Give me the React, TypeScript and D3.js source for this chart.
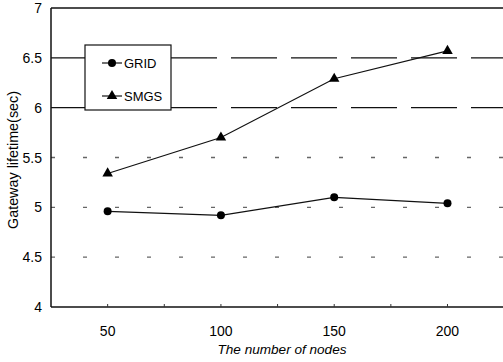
import React, { useEffect, useRef } from "react";
import * as d3 from "d3";

const nodes = [50, 100, 150, 200];
const gridSeries = [4.96, 4.92, 5.1, 5.04];
const smgsSeries = [5.34, 5.7, 6.29, 6.57];
const yTicks = [4, 4.5, 5, 5.5, 6, 6.5, 7];

const App = () => {
  const ref = useRef<SVGSVGElement>(null);

  useEffect(() => {
    const svg = d3.select(ref.current);
    svg.selectAll("*").remove();
    const left = 51, right = 503, top = 8, bottom = 307;

    const x = d3.scaleLinear().domain([25, 224.5]).range([left, right]);
    const y = d3.scaleLinear().domain([4, 7]).range([bottom, top]);
    const font = "Arial, 'Liberation Sans', sans-serif";

    // grid lines
    yTicks.slice(1).forEach((t) => {
      const dash = t === 7 ? null : t >= 6 ? "46,14" : "4,28";
      svg.append("line")
        .attr("x1", left).attr("x2", right)
        .attr("y1", y(t)).attr("y2", y(t))
        .attr("stroke", t >= 6 ? "#111" : "#666")
        .attr("stroke-width", t === 7 ? 1.5 : 1.3)
        .attr("stroke-dasharray", dash);
    });

    // axes
    svg.append("line").attr("x1", left).attr("x2", left).attr("y1", top).attr("y2", bottom)
      .attr("stroke", "#111").attr("stroke-width", 1.5);
    svg.append("line").attr("x1", left).attr("x2", right).attr("y1", bottom).attr("y2", bottom)
      .attr("stroke", "#111").attr("stroke-width", 1.5);

    d3.range(50, 225, 25).forEach((v) => {
      svg.append("line").attr("x1", x(v)).attr("x2", x(v)).attr("y1", bottom).attr("y2", bottom - 3)
        .attr("stroke", "#333").attr("stroke-width", 1);
    });

    svg.append("g").selectAll("text").data(yTicks).enter().append("text")
      .attr("x", left - 9).attr("y", (d) => y(d) + 5)
      .attr("text-anchor", "end").attr("font-family", font).attr("font-size", 14)
      .text((d) => String(d));

    svg.append("g").selectAll("text").data(nodes).enter().append("text")
      .attr("x", (d) => x(d)).attr("y", 336)
      .attr("text-anchor", "middle").attr("font-family", font).attr("font-size", 14)
      .text((d) => String(d));

    svg.append("text")
      .attr("x", 282).attr("y", 354).attr("text-anchor", "middle")
      .attr("font-family", font).attr("font-size", 12).attr("font-style", "italic")
      .attr("textLength", 129).attr("lengthAdjust", "spacingAndGlyphs")
      .text("The number of nodes");

    svg.append("text")
      .attr("transform", `translate(18, 160) rotate(-90)`)
      .attr("text-anchor", "middle").attr("font-family", font).attr("font-size", 14)
      .attr("textLength", 138).attr("lengthAdjust", "spacingAndGlyphs")
      .text("Gateway lifetime(sec)");

    const line = d3.line<number>().x((_, i) => x(nodes[i])).y((d) => y(d));

    svg.append("path").attr("d", line(gridSeries)).attr("fill", "none")
      .attr("stroke", "#111").attr("stroke-width", 1.2);
    svg.append("path").attr("d", line(smgsSeries)).attr("fill", "none")
      .attr("stroke", "#111").attr("stroke-width", 1.2);

    svg.append("g").selectAll("circle").data(gridSeries).enter().append("circle")
      .attr("cx", (_, i) => x(nodes[i])).attr("cy", (d) => y(d)).attr("r", 4).attr("fill", "#000");

    const tri = d3.symbol().type(d3.symbolTriangle).size(48);
    svg.append("g").selectAll("path").data(smgsSeries).enter().append("path")
      .attr("d", tri).attr("transform", (d, i) => `translate(${x(nodes[i])},${y(d)})`).attr("fill", "#000");

    // legend
    const lg = svg.append("g");
    lg.append("rect").attr("x", 85).attr("y", 45).attr("width", 86).attr("height", 65)
      .attr("fill", "#fff").attr("stroke", "#111").attr("stroke-width", 1.2);
    const items = [
      { name: "GRID", yy: 63, kind: "circle" },
      { name: "SMGS", yy: 96, kind: "tri" },
    ];
    items.forEach((it) => {
      lg.append("line").attr("x1", 102).attr("x2", 122).attr("y1", it.yy).attr("y2", it.yy)
        .attr("stroke", "#111").attr("stroke-width", 1.2);
      if (it.kind === "circle") {
        lg.append("circle").attr("cx", 112).attr("cy", it.yy).attr("r", 4).attr("fill", "#000");
      } else {
        lg.append("path").attr("d", tri).attr("transform", `translate(112,${it.yy})`).attr("fill", "#000");
      }
      lg.append("text").attr("x", 124).attr("y", it.yy + 5)
        .attr("font-family", font).attr("font-size", 13).text(it.name);
    });
  }, []);

  return (
    <svg ref={ref} width={503} height={362}
      style={{ position: "absolute", left: 0, top: 0, background: "#fff" }} />
  );
};

export default App;
